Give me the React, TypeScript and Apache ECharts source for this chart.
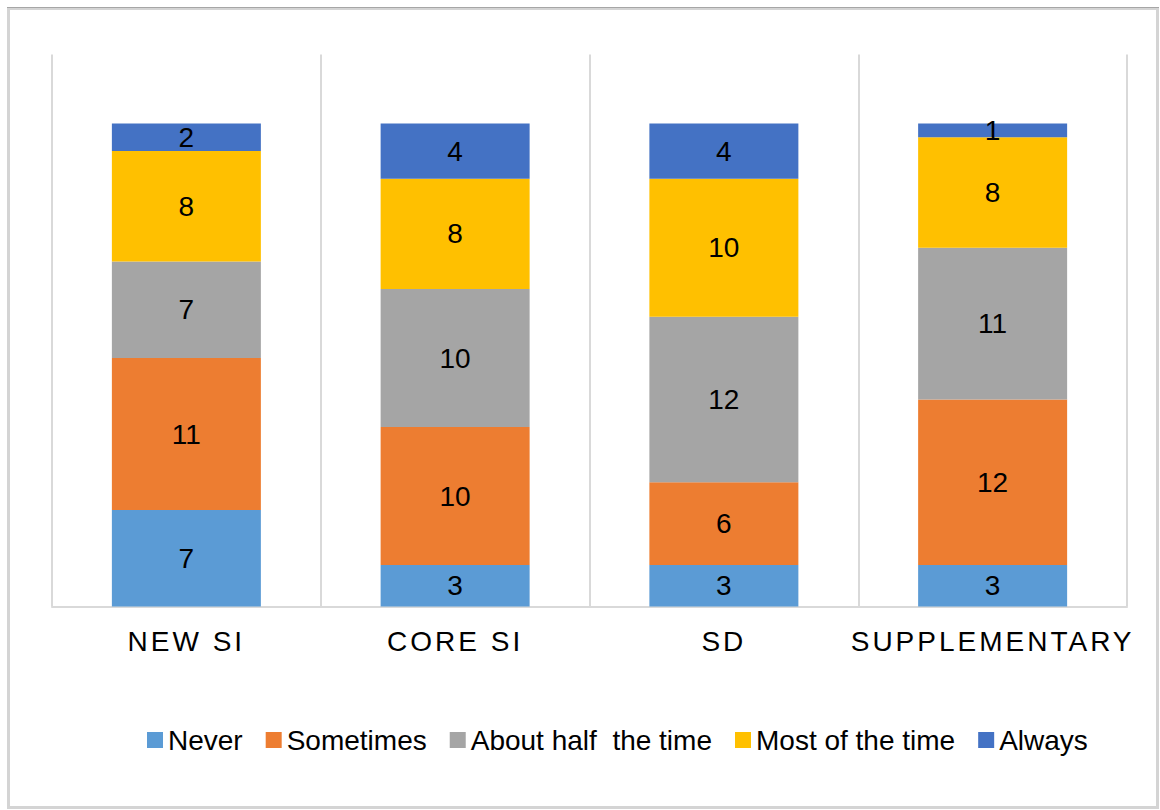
import React, { useEffect, useRef } from "react";
import * as echarts from "echarts";

const categories = ["NEW SI", "CORE SI", "SD", "SUPPLEMENTARY"];
const seriesNames = ["Never", "Sometimes", "About half  the time", "Most of the time", "Always"];
const never = [7, 3, 3, 3];
const sometimes = [11, 10, 6, 12];
const aboutHalf = [7, 10, 12, 11];
const mostOfTime = [8, 8, 10, 8];
const always = [2, 4, 4, 1];
const colors = ["#5B9BD5", "#ED7D31", "#A5A5A5", "#FFC000", "#4472C4"];

const seriesData = [never, sometimes, aboutHalf, mostOfTime, always];

export default function App() {
  const ref = useRef<HTMLDivElement>(null);

  useEffect(() => {
    if (!ref.current) return;
    const chart = echarts.init(ref.current, undefined, { renderer: "svg" });
    const font = "Liberation Sans";
    chart.setOption({
      animation: false,
      backgroundColor: "#ffffff",
      color: colors,
      grid: {
        left: 52,
        right: 33,
        top: 54.5,
        bottom: 203.5,
        containLabel: false,
        outerBoundsMode: "none",
      },
      legend: {
        left: 142,
        top: 721,
        icon: "rect",
        itemWidth: 16,
        itemHeight: 16,
        itemGap: 23,
        data: seriesNames,
        textStyle: { fontSize: 28, color: "#000", fontFamily: font },
      },
      xAxis: {
        type: "category",
        data: categories,
        axisLine: { lineStyle: { color: "#d9d9d9", width: 2 } },
        axisTick: { show: false },
        splitLine: { show: true, lineStyle: { color: "#d9d9d9", width: 2 } },
        axisLabel: {
          fontSize: 28,
          color: "#000",
          margin: 21,
          fontFamily: "Liberation Sans, sans-serif",
          interval: 0,
        },
      },
      yAxis: { type: "value", min: 0, max: 40, show: false },
      series: seriesNames.map((name, i) => ({
        name,
        type: "bar",
        stack: "total",
        barWidth: 149,
        data: seriesData[i],
        itemStyle: { color: colors[i] },
        label: {
          show: true,
          position: "inside",
          fontSize: 28,
          color: "#000",
          fontFamily: font,
        },
      })),
      graphic: [
        {
          type: "rect",
          shape: { x: 8.5, y: 8.5, width: 1149, height: 799 },
          style: { fill: "none", stroke: "#d4d4d4", lineWidth: 3 },
          silent: true,
        },
        {
          type: "line",
          shape: { x1: 7, y1: 7.5, x2: 1159, y2: 7.5 },
          style: { stroke: "#a6a6a6", lineWidth: 1 },
          silent: true,
        },
      ],
    });
    return () => chart.dispose();
  }, []);

  return (
    <>
      <style>{`text { white-space: pre; } text[style*="sans-serif"] { letter-spacing: 3px; }`}</style>
      <div
        ref={ref}
        style={{ position: "absolute", left: 0, top: 0, width: 1160, height: 810, background: "#fff" }}
      />
    </>
  );
}
